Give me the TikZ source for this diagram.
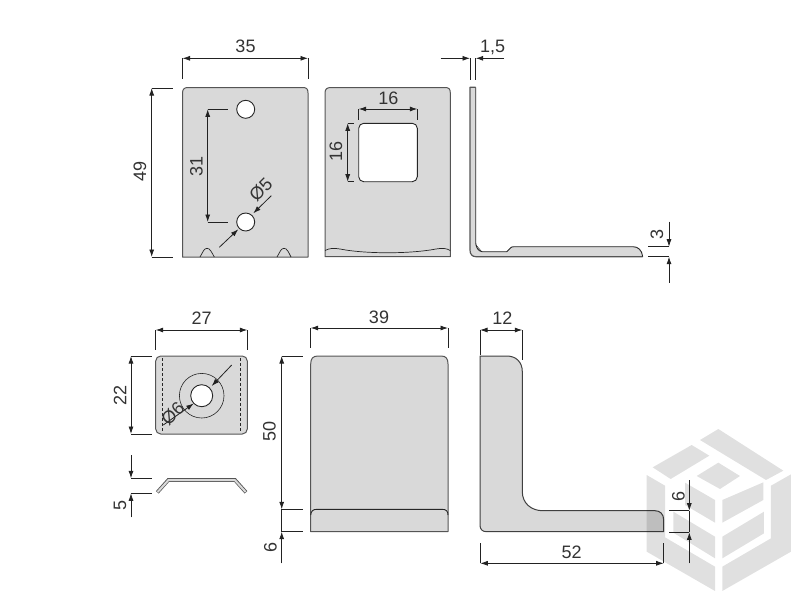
\documentclass[tikz,border=0pt]{standalone}
\usepackage{fontspec}
\setmainfont{Liberation Sans}
\usetikzlibrary{arrows.meta}
\definecolor{partgray}{HTML}{D9D9D9}
\definecolor{edgegray}{HTML}{555555}
\definecolor{inkgray}{HTML}{222222}
\definecolor{textgray}{HTML}{333333}
\tikzset{
  part/.style={fill=partgray,draw=edgegray,line width=1pt,line join=round},
  hole/.style={fill=white,draw=black!85,line width=0.9pt},
  detail/.style={draw=black!85,line width=0.8pt},
  dimline/.style={draw=inkgray,line width=0.8pt,-{Latex[length=7.5pt,width=5pt]}},
  dimboth/.style={draw=inkgray,line width=0.8pt,{Latex[length=7.5pt,width=5pt]}-{Latex[length=7.5pt,width=5pt]}},
  extline/.style={draw=inkgray,line width=0.7pt},
  dimtext/.style={font=\fontsize{18}{20}\selectfont,text=textgray,inner sep=0pt},
  logoface/.style={fill=black,fill opacity=0.12,draw=none}
}
\begin{document}
\begin{tikzpicture}[x=1pt,y=-1pt]
\useasboundingbox (0,0) rectangle (800,600);
\fill[white] (0,0) rectangle (800,600);

% ---------- plate with two holes
\path[part] (182.5,257) -- (182.5,93) .. controls (182.5,89) and (184.5,87.5) .. (188,87.5) -- (303,87.5) .. controls (306.5,87.5) and (308,89) .. (308,93) -- (308,257) -- cycle;
\draw[detail,line width=.7pt] (200,257) .. controls (203,252) and (204,248.3) .. (207,248.3) .. controls (210,248.3) and (211.5,252) .. (214.3,257);
\draw[detail,line width=.7pt] (277,257) .. controls (280,252) and (281,248.3) .. (284,248.3) .. controls (287,248.3) and (288.5,252) .. (291,257);
\draw[hole] (245.7,109.3) circle (9);
\draw[hole] (245.7,222) circle (9);

% ---------- plate with window
\path[part] (325,256.7) -- (325,93) .. controls (325,89) and (327,87.5) .. (331,87.5) -- (445,87.5) .. controls (449,87.5) and (450.3,89) .. (450.3,93) -- (450.3,256.7) -- cycle;
\draw[detail,line width=.7pt] (325,250.5) .. controls (330,248) and (334,248) .. (340,249) .. controls (365,254) and (410,254) .. (436,249) .. controls (442,248) and (446,248) .. (450.3,250.5);
\draw[hole,rounded corners=5pt] (358.7,123.3) rectangle (417.3,181.7);

% ---------- thin side profile
\path[fill=partgray] (470,87.3) -- (475.7,87.3) -- (475.7,243) .. controls (476,247) and (478,251) .. (482,251.7) -- (506.7,251.7) -- (510,248.5) .. controls (511,247) and (512,246.7) .. (514,246.7) -- (633,246.7) .. controls (638,246.7) and (642,250) .. (642.7,256.7) -- (476,256.7) .. controls (472,256.7) and (470,254) .. (470,250) -- cycle;
\draw[edgegray,line width=1.2pt,line join=round] (475.7,87.3) -- (470,87.3) -- (470,250) .. controls (470,254) and (472,256.7) .. (476,256.7) -- (642.7,256.7);
\draw[detail,line width=.9pt] (475.7,87.3) -- (475.7,243) .. controls (476,247) and (478,251) .. (482,251.7) -- (506.7,251.7) -- (510,248.5) .. controls (511,247) and (512,246.7) .. (514,246.7) -- (633,246.7) .. controls (638,246.7) and (642,250) .. (642.7,256.7);
\draw[detail,line width=.5pt] (476,245) -- (481.7,251.7);

% ---------- small plate with washer
\path[part,rounded corners=5pt] (155.7,356) rectangle (247.3,434);
\draw[detail,dashed,line width=.55pt,dash pattern=on 3pt off 2pt] (162.7,358) -- (162.7,432);
\draw[detail,dashed,line width=.55pt,dash pattern=on 3pt off 2pt] (240.3,358) -- (240.3,432);
\draw[detail,line width=.6pt] (201.7,395.7) circle (22.3);
\draw[hole] (201.7,395.7) circle (11);

% ---------- bent profile
\draw[edgegray,line width=3.6pt,line join=miter] (157.3,492.3) -- (168.3,480) -- (235,480) -- (246,492.3);
\draw[partgray,line width=2pt,line join=miter] (157.6,492) -- (168.5,480) -- (234.8,480) -- (245.7,492);

% ---------- front view
\path[part] (310.7,531.7) -- (310.7,364) .. controls (310.7,358.5) and (313,356) .. (318,356) -- (441,356) .. controls (446,356) and (448,358.5) .. (448,364) -- (448,531.7) -- cycle;
\draw[detail,line width=.9pt] (310.7,515) .. controls (311,511) and (313,509.3) .. (317,509.3) -- (442,509.3) .. controls (446,509.3) and (448,511) .. (448,515);

% ---------- L side view
\path[part,draw=black!75] (480,356) -- (506.7,356) .. controls (516,356) and (522.3,362) .. (522.3,371.7) -- (522.3,491.7) .. controls (522.3,503) and (531,510.7) .. (542.7,510.7) -- (655,510.7) .. controls (660,510.7) and (663.7,514) .. (663.7,520) -- (663.7,531.7) -- (486.7,531.7) .. controls (482,531.7) and (480,529) .. (480,525) -- cycle;

% ---------- logo (translucent, lies over the drawing)
\begin{scope}[shift={(640,420)},x=0.3333pt,y=-0.3333pt]
\fill[logoface] (180,60) -- (235,27) -- (430,152) -- (378,180) -- cycle;
\fill[logoface] (38,142) -- (155,75) -- (208,107) -- (92,177) -- cycle;
\fill[logoface] (170,168) -- (235,128) -- (300,168) -- (240,207) -- cycle;
\fill[logoface] (20,165) -- (75,197) -- (75,352) -- (225,440) -- (225,513) -- (20,395) -- cycle;
\fill[logoface] (100,275) -- (225,350) -- (225,415) -- (100,338) -- cycle;
\fill[logoface] (135,188) -- (225,240) -- (225,308) -- (135,255) -- cycle;
\fill[logoface] (453,163) -- (453,395) -- (247,513) -- (247,440) -- (393,355) -- (393,197) -- cycle;
\fill[logoface] (372,275) -- (372,340) -- (247,415) -- (247,350) -- cycle;
\fill[logoface] (370,187) -- (370,240) -- (247,308) -- (247,240) -- cycle;
\end{scope}

% ---------- named anchors for the dimensions
\coordinate (a35l) at (182.5,58.3); \coordinate (a35r) at (308,58.3);
\coordinate (a35lb) at (182.5,79); \coordinate (a35rb) at (308,79);
\coordinate (a49t) at (151.7,88); \coordinate (a49b) at (151.7,257);
\coordinate (a49te) at (172.7,88); \coordinate (a49be) at (172.7,257);
\coordinate (a31t) at (207.7,109.3); \coordinate (a31b) at (207.7,222);
\coordinate (a31te) at (228,109.3); \coordinate (a31be) at (228,222);
\coordinate (d5a) at (219.3,247.3); \coordinate (d5b) at (238.3,229.3);
\coordinate (d5c) at (271.3,195.7); \coordinate (d5d) at (253.3,213.3);
\coordinate (b16l) at (358.7,109); \coordinate (b16r) at (417.3,109);
\coordinate (b16lb) at (358.7,120); \coordinate (b16rb) at (417.3,120);
\coordinate (b16t) at (347.7,123.3); \coordinate (b16b) at (347.7,181.7);
\coordinate (b16te) at (354,123.3); \coordinate (b16be) at (354,181.7);
\coordinate (t15a) at (440.7,58.3); \coordinate (t15b) at (470,58.3);
\coordinate (t15c) at (504,58.3); \coordinate (t15d) at (475.7,58.3);
\coordinate (t15be) at (470,80); \coordinate (t15de) at (475.7,80);
\coordinate (t3a) at (669,221.7); \coordinate (t3b) at (669,246.7);
\coordinate (t3c) at (669,282.7); \coordinate (t3d) at (669,256.7);
\coordinate (t3be) at (648.3,246.7); \coordinate (t3de) at (648.3,256.7);
\coordinate (c27l) at (155.7,330); \coordinate (c27r) at (247.3,330);
\coordinate (c27lb) at (155.7,350); \coordinate (c27rb) at (247.3,350);
\coordinate (c22t) at (131,356); \coordinate (c22b) at (131,434);
\coordinate (c22te) at (151.7,356); \coordinate (c22be) at (151.7,434);
\coordinate (d6a) at (231.7,365); \coordinate (d6b) at (211.7,386);
\coordinate (d6c) at (163.3,425); \coordinate (d6d) at (193.7,403.5);
\coordinate (e5a) at (131,455); \coordinate (e5b) at (131,478.3);
\coordinate (e5c) at (131,517.3); \coordinate (e5d) at (131,493.3);
\coordinate (e5be) at (151.7,478.3); \coordinate (e5de) at (151.7,493.3);
\coordinate (f39l) at (310.7,328); \coordinate (f39r) at (448,328);
\coordinate (f39lb) at (310.7,348); \coordinate (f39rb) at (448,348);
\coordinate (f50t) at (281.7,356); \coordinate (f50b) at (281.7,509.3);
\coordinate (f50te) at (302.7,356); \coordinate (f50be) at (302.7,509.3);
\coordinate (f6a) at (281.7,563.3); \coordinate (f6b) at (281.7,531.7);
\coordinate (f6be) at (302.7,531.7);
\coordinate (g12l) at (480,330); \coordinate (g12r) at (522.3,330);
\coordinate (g12lb) at (480,355); \coordinate (g12rb) at (522.3,360);
\coordinate (g52l) at (480.3,563.3); \coordinate (g52r) at (663.7,563.3);
\coordinate (g52lb) at (480.3,542.7); \coordinate (g52rb) at (663.7,542.7);
\coordinate (g6a) at (689.3,480); \coordinate (g6b) at (689.3,510.7);
\coordinate (g6c) at (689.3,563.3); \coordinate (g6d) at (689.3,532.3);
\coordinate (g6be) at (669,510.7); \coordinate (g6de) at (669,532.3);

% ---------- dimension lines
\draw[dimboth] (a35l) -- (a35r);
\draw[extline] (a35l) -- (a35lb) (a35r) -- (a35rb);
\draw[dimboth] (a49t) -- (a49b);
\draw[extline] (a49t) -- (a49te) (a49b) -- (a49be);
\draw[dimboth] (a31t) -- (a31b);
\draw[extline] (a31t) -- (a31te) (a31b) -- (a31be);
\draw[dimline] (d5a) -- (d5b);
\draw[dimline] (d5c) -- (d5d);
\draw[dimboth] (b16l) -- (b16r);
\draw[extline] (b16l) -- (b16lb) (b16r) -- (b16rb);
\draw[dimboth] (b16t) -- (b16b);
\draw[extline] (b16t) -- (b16te) (b16b) -- (b16be);
\draw[dimline] (t15a) -- (t15b);
\draw[dimline] (t15c) -- (t15d);
\draw[extline] (t15b) -- (t15be) (t15d) -- (t15de);
\draw[dimline] (t3a) -- (t3b);
\draw[dimline] (t3c) -- (t3d);
\draw[extline] (t3b) -- (t3be) (t3d) -- (t3de);
\draw[dimboth] (c27l) -- (c27r);
\draw[extline] (c27l) -- (c27lb) (c27r) -- (c27rb);
\draw[dimboth] (c22t) -- (c22b);
\draw[extline] (c22t) -- (c22te) (c22b) -- (c22be);
\draw[dimline] (d6a) -- (d6b);
\draw[dimline] (d6c) -- (d6d);
\draw[dimline] (e5a) -- (e5b);
\draw[dimline] (e5c) -- (e5d);
\draw[extline] (e5b) -- (e5be) (e5d) -- (e5de);
\draw[dimboth] (f39l) -- (f39r);
\draw[extline] (f39l) -- (f39lb) (f39r) -- (f39rb);
\draw[dimboth] (f50t) -- (f50b);
\draw[extline] (f50t) -- (f50te) (f50b) -- (f50be);
\draw[dimline] (f6a) -- (f6b);
\draw[extline] (f6b) -- (f6be);
\draw[extline] (f50b) -- (f6b);
\draw[dimboth] (g12l) -- (g12r);
\draw[extline] (g12l) -- (g12lb) (g12r) -- (g12rb);
\draw[dimboth] (g52l) -- (g52r);
\draw[extline] (g52l) -- (g52lb) (g52r) -- (g52rb);
\draw[dimline] (g6a) -- (g6b);
\draw[dimline] (g6c) -- (g6d);
\draw[extline] (g6b) -- (g6be) (g6d) -- (g6de);
\draw[extline] (g6b) -- (g6d);

% ---------- labels
\node[dimtext] (l35) at (245.5,46.5) {35};
\node[dimtext,rotate=90] (l49) at (140,171.5) {49};
\node[dimtext,rotate=90] (l31) at (196.5,166) {31};
\node[dimtext,rotate=45] (l5) at (260.7,190) {Ø5};
\node[dimtext] (l16h) at (388.3,98.5) {16};
\node[dimtext,rotate=90] (l16v) at (336,151) {16};
\node[dimtext] (l15) at (492.7,47.5) {1,5};
\node[dimtext,rotate=90] (l3) at (657,234.5) {3};
\node[dimtext] (l27) at (201.7,318.5) {27};
\node[dimtext,rotate=90] (l22) at (120,395) {22};
\node[dimtext,rotate=45] (l6d) at (172.7,413.5) {Ø6};
\node[dimtext,rotate=90] (l5b) at (120,505.7) {5};
\node[dimtext] (l39) at (379,317) {39};
\node[dimtext,rotate=90] (l50) at (269.5,431) {50};
\node[dimtext,rotate=90] (l6f) at (270.5,547.3) {6};
\node[dimtext] (l12) at (502.3,318.5) {12};
\node[dimtext] (l52) at (571.7,552.3) {52};
\node[dimtext,rotate=90] (l6g) at (678.3,496.7) {6};
\end{tikzpicture}
\end{document}
